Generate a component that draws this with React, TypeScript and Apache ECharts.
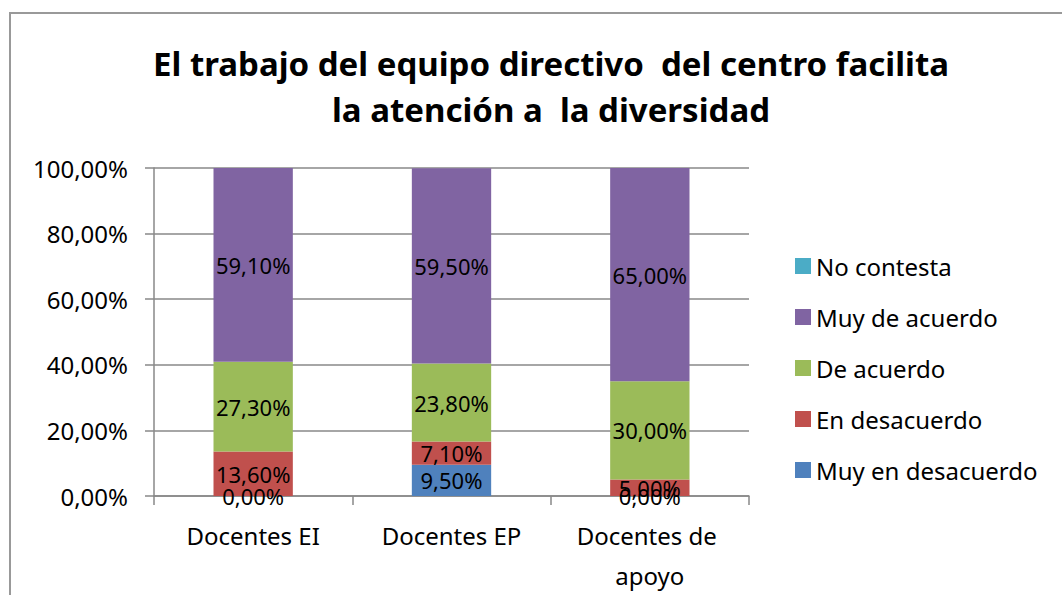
import React, { useEffect, useRef } from "react";
import * as echarts from "echarts";

const categories = ["Docentes EI", "Docentes EP", "Docentes de apoyo"];
const muyEnDesacuerdo = [0, 9.5, 0];
const enDesacuerdo = [13.6, 7.1, 5.0];
const deAcuerdo = [27.3, 23.8, 30.0];
const muyDeAcuerdo = [59.1, 59.5, 65.0];
const noContesta = [0, 0, 0];
const legendOrder = ["No contesta", "Muy de acuerdo", "De acuerdo", "En desacuerdo", "Muy en desacuerdo"];

const FONT = "Noto Sans";
const fmt = (v: number) => v.toFixed(2).replace(".", ",") + "%";

export default function App() {
  const ref = useRef<HTMLDivElement>(null);
  useEffect(() => {
    document.body.style.margin = "0";
    const chart = echarts.init(ref.current!, null, { renderer: "svg" });
    const label = {
      show: true,
      position: "inside",
      color: "#000",
      fontFamily: FONT,
      fontSize: 22,
      formatter: (p: any) => fmt(p.value),
    };
    const mk = (name: string, data: number[], color: string, showLabel = true) => ({
      name,
      type: "bar",
      stack: "total",
      data,
      barWidth: "40%",
      itemStyle: { color },
      label: showLabel ? label : { show: false },
    });
    chart.setOption({
      animation: false,
      backgroundColor: "#fff",
      textStyle: { fontFamily: FONT },
      title: {
        text: "El trabajo del equipo directivo  del centro facilita\nla atención a  la diversidad",
        left: 546,
        top: 35,
        textAlign: "center",
        textStyle: { fontFamily: FONT, fontSize: 33, fontWeight: "bold", color: "#000", lineHeight: 46 },
      },
      graphic: [
        {
          type: "rect",
          shape: { x: 10, y: 13, width: 1070, height: 600 },
          style: { fill: "none", stroke: "#999", lineWidth: 2 },
          silent: true,
        },
      ],
      legend: {
        data: legendOrder,
        orient: "vertical",
        left: 790,
        top: 249,
        itemWidth: 16,
        itemHeight: 16,
        itemGap: 27,
        icon: "rect",
        textStyle: { fontFamily: FONT, fontSize: 24, lineHeight: 24, color: "#000" },
      },
      grid: { left: 154, right: 313, top: 168, bottom: 99 },
      xAxis: {
        type: "category",
        data: categories,
        axisLine: { lineStyle: { color: "#888", width: 1.5 } },
        axisTick: { show: true, length: 9, lineStyle: { color: "#888", width: 1.5 } },
        axisLabel: {
          color: "#000",
          fontFamily: FONT,
          fontSize: 24,
          margin: 19,
          width: 190,
          overflow: "break",
          lineHeight: 40,
          interval: 0,
        },
      },
      yAxis: {
        type: "value",
        min: 0,
        max: 100,
        interval: 20,
        axisLine: { show: true, lineStyle: { color: "#888", width: 1.5 } },
        axisTick: { show: true, length: 9, lineStyle: { color: "#888", width: 1.5 } },
        splitLine: { lineStyle: { color: "#888", width: 1.5 } },
        axisLabel: {
          color: "#000",
          fontFamily: FONT,
          fontSize: 24,
          margin: 26,
          formatter: (v: number) => fmt(v),
        },
      },
      series: [
        mk("Muy en desacuerdo", muyEnDesacuerdo, "#4F81BD"),
        mk("En desacuerdo", enDesacuerdo, "#C0504D"),
        mk("De acuerdo", deAcuerdo, "#9BBB59"),
        mk("Muy de acuerdo", muyDeAcuerdo, "#8064A2"),
        mk("No contesta", noContesta, "#4BACC6", false),
      ],
    });
    return () => chart.dispose();
  }, []);
  return <div ref={ref} style={{ width: 1062, height: 595 }} />;
}
